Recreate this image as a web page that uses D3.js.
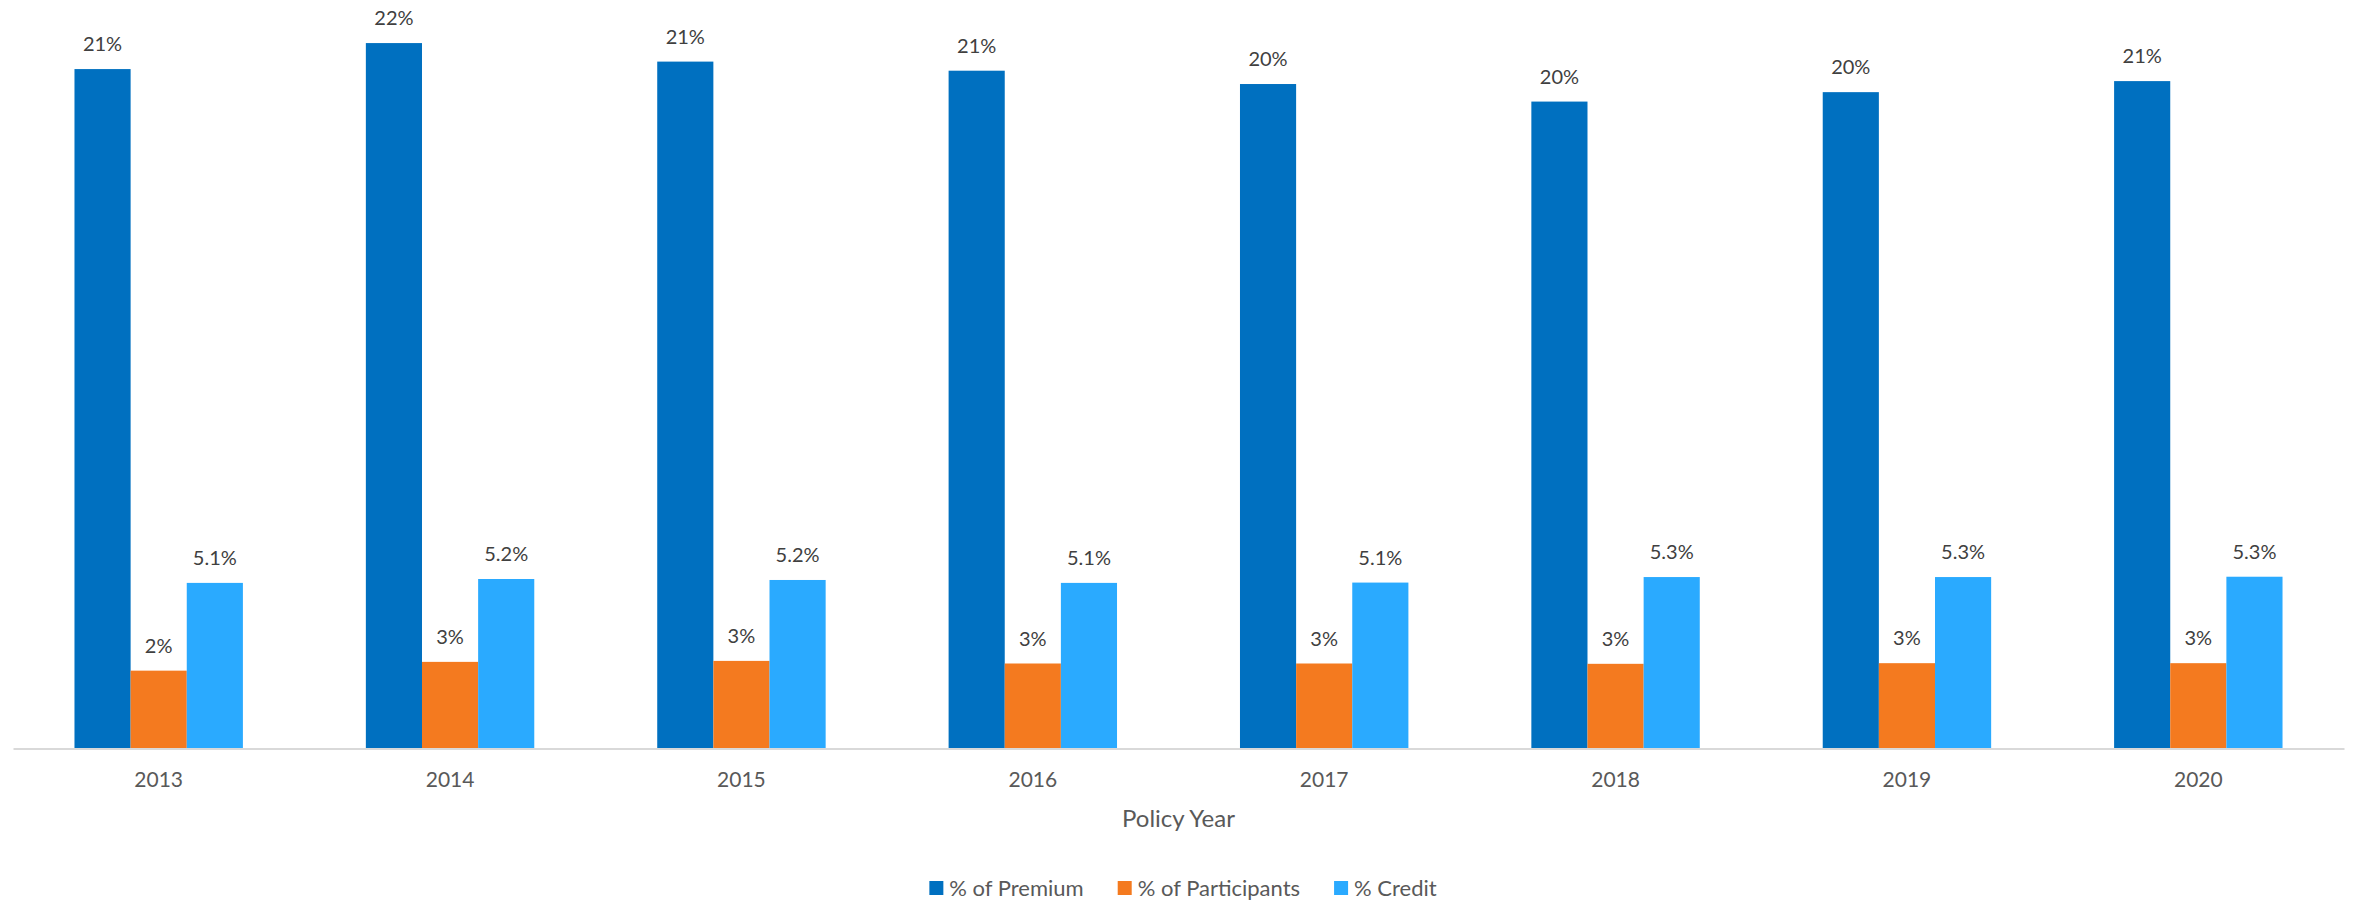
<!DOCTYPE html>
<html>
<head>
<meta charset="utf-8">
<script src="https://cdn.jsdelivr.net/npm/d3@7"></script>
<style>
  html, body { margin: 0; padding: 0; background: #ffffff; }
  svg { display: block; font-family: Lato, "Open Sans", sans-serif; }
</style>
</head>
<body>
<svg id="chart" width="2354" height="900"></svg>
<script>
// Policy years on the category axis
const years = ["2013", "2014", "2015", "2016", "2017", "2018", "2019", "2020"];

// Series values (shares, 0–1)
const premiumShare = [0.2089, 0.2169, 0.2112, 0.2084, 0.2043, 0.1989, 0.2018, 0.2052];
const participantShare = [0.0238, 0.0265, 0.0268, 0.0260, 0.0260, 0.0259, 0.0261, 0.0261];
const creditShare = [0.0508, 0.0520, 0.0517, 0.0508, 0.0509, 0.0526, 0.0526, 0.0527];

const seriesNames = ["% of Premium", "% of Participants", "% Credit"];
const seriesColors = ["#0070C0", "#F47A1F", "#2AAAFF"];
const seriesFormats = [".0%", ".0%", ".1%"];
const seriesValues = [premiumShare, participantShare, creditShare];

const svg = d3.select("#chart");

const plot = { left: 13, right: 2344, top: 0.5, bottom: 748 };

const x = d3.scaleBand().domain(years).range([plot.left, plot.right]).paddingInner(0).paddingOuter(0);
const xs = d3.scaleBand().domain(d3.range(seriesNames.length)).range([0, x.bandwidth()])
  .paddingInner(0).paddingOuter(1.095);
const y = d3.scaleLinear().domain([0, 0.23]).range([plot.bottom, plot.top]);

// Grouped bars with value labels above each one
const groups = svg.append("g").selectAll("g")
  .data(years)
  .join("g")
  .attr("transform", d => `translate(${x(d)},0)`);

seriesNames.forEach((name, si) => {
  groups.append("rect")
    .attr("x", xs(si))
    .attr("width", xs.bandwidth())
    .attr("y", (d, i) => y(seriesValues[si][i]))
    .attr("height", (d, i) => y(0) - y(seriesValues[si][i]))
    .attr("fill", seriesColors[si]);

  groups.append("text")
    .attr("x", xs(si) + xs.bandwidth() / 2)
    .attr("y", (d, i) => y(seriesValues[si][i]) - 18)
    .attr("text-anchor", "middle")
    .attr("font-size", 20)
    .attr("fill", "#404040")
    .text((d, i) => d3.format(seriesFormats[si])(seriesValues[si][i]));
});

// Category axis
const xAxis = svg.append("g")
  .attr("transform", `translate(0,${plot.bottom + 0.5})`)
  .call(d3.axisBottom(x).tickSize(0).tickPadding(0));
xAxis.select(".domain").attr("stroke", "#D9D9D9").attr("stroke-width", 2);
xAxis.selectAll(".tick text")
  .attr("font-family", "Lato, 'Open Sans', sans-serif")
  .attr("font-size", 21)
  .attr("fill", "#595959")
  .attr("dy", 0)
  .attr("y", 38.5);

// Axis title
svg.append("text")
  .attr("x", (plot.left + plot.right) / 2)
  .attr("y", 827)
  .attr("text-anchor", "middle")
  .attr("font-size", 24)
  .attr("fill", "#595959")
  .text("Policy Year");

// Legend, laid out left to right and centred under the plot
const legend = svg.append("g");
const items = legend.selectAll("g").data(seriesNames).join("g");
items.append("rect")
  .attr("width", 14).attr("height", 14)
  .attr("y", 881)
  .attr("fill", (d, i) => seriesColors[i]);
items.append("text")
  .attr("x", 20)
  .attr("y", 896)
  .attr("font-size", 22)
  .attr("fill", "#595959")
  .text(d => d);

let cursor = 0;
const itemGap = 34;
items.each(function () {
  const g = d3.select(this);
  const w = 20 + g.select("text").node().getComputedTextLength();
  g.attr("transform", `translate(${cursor},0)`);
  cursor += w + itemGap;
});
const legendWidth = cursor - itemGap;
legend.attr("transform", `translate(${1183 - legendWidth / 2},0)`);
</script>
</body>
</html>
